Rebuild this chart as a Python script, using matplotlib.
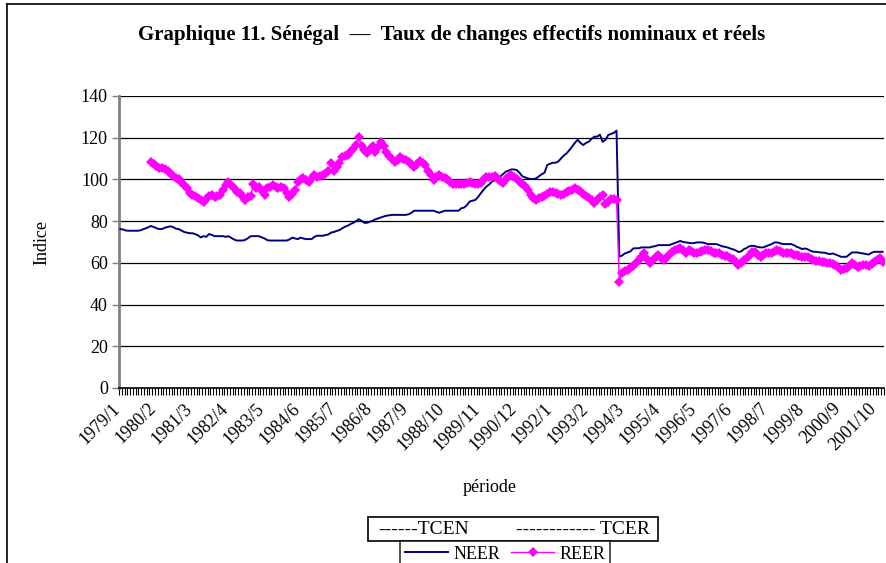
"""
Graphique 11 - Sénégal : taux de change effectifs nominaux (NEER) et réels (REER)
Série mensuelle 1979/1 - 2001/12
"""

import numpy as np
import pandas as pd
import matplotlib
matplotlib.use("Agg")
import matplotlib.pyplot as plt
import matplotlib.transforms as mtransforms
from matplotlib.patches import Rectangle
from matplotlib.lines import Line2D

plt.rcParams["font.family"] = ["Liberation Serif", "DejaVu Serif"]

W, H = 887, 563

# mois : 1979/1 ... 2001/12
months = pd.period_range("1979-01", "2001-12", freq="M")
month_labels = [f"{p.year}/{p.month}" for p in months]

# NEER, un an par ligne
neer = [
    76.2, 76.0, 75.5, 75.4, 75.4, 75.4, 75.4, 75.5, 76.0, 76.5, 77.0, 77.7,   # 1979
    77.2, 76.6, 76.2, 76.2, 76.8, 77.2, 77.5, 77.2, 76.4, 76.2, 75.5, 74.8,   # 1980
    74.5, 74.2, 74.2, 73.8, 73.2, 72.2, 72.8, 72.5, 73.8, 73.4, 72.8, 72.8,   # 1981
    72.8, 72.8, 72.5, 72.8, 72.0, 71.2, 70.7, 70.7, 70.7, 71.0, 71.8, 72.8,   # 1982
    72.8, 72.8, 72.8, 72.2, 71.7, 70.9, 70.7, 70.7, 70.7, 70.7, 70.7, 70.7,   # 1983
    70.7, 71.2, 72.1, 71.7, 71.4, 72.1, 71.7, 71.4, 71.4, 71.4, 72.5, 73.0,   # 1984
    73.0, 73.0, 73.3, 73.6, 74.5, 74.8, 75.3, 75.7, 76.5, 77.3, 77.8, 78.6,   # 1985
    79.2, 80.0, 80.9, 80.2, 79.2, 79.2, 79.7, 80.2, 80.9, 81.3, 81.8, 82.2,   # 1986
    82.6, 82.8, 83.0, 83.0, 83.0, 83.0, 83.0, 83.0, 83.3, 84.0, 85.0, 85.0,   # 1987
    85.0, 85.0, 85.0, 85.0, 85.0, 85.0, 84.5, 84.0, 84.5, 85.0, 85.0, 85.0,   # 1988
    85.0, 85.0, 85.0, 86.2, 86.5, 87.7, 89.4, 89.8, 90.1, 91.5, 93.3, 95.0,   # 1989
    96.5, 97.5, 98.9, 99.5, 100.5, 101.3, 102.5, 103.7, 104.2, 104.8, 104.8, 104.5,  # 1990
    103.2, 101.5, 101.0, 100.5, 100.2, 100.2, 100.5, 101.5, 102.5, 103.2, 106.9, 107.5,  # 1991
    108.0, 108.0, 108.6, 110.1, 111.5, 112.5, 114.1, 115.8, 117.6, 119.0, 117.5, 116.5,  # 1992
    117.5, 118.1, 119.5, 120.5, 120.5, 121.5, 118.0, 119.0, 121.3, 121.8, 122.3, 123.4,  # 1993
    62.9, 63.5, 64.5, 65.0, 65.5, 66.9, 67.0, 67.0, 67.4, 67.4, 67.4, 67.4,   # 1994
    67.8, 68.0, 68.5, 68.5, 68.5, 68.5, 68.5, 69.0, 69.5, 70.0, 70.5, 70.0,   # 1995
    69.8, 69.6, 69.4, 69.5, 69.8, 69.8, 69.8, 69.4, 69.0, 69.0, 69.0, 69.0,   # 1996
    68.5, 68.0, 67.7, 67.4, 66.9, 66.5, 66.0, 65.2, 65.5, 66.6, 67.2, 68.0,   # 1997
    68.2, 68.0, 67.6, 67.4, 67.4, 68.0, 68.5, 69.0, 69.8, 69.8, 69.4, 69.0,   # 1998
    69.0, 69.0, 69.0, 68.5, 67.7, 67.2, 66.6, 66.9, 66.5, 65.8, 65.3, 65.3,   # 1999
    65.1, 64.9, 64.9, 64.5, 64.2, 64.5, 64.0, 63.5, 62.9, 62.9, 62.9, 64.0,   # 2000
    65.0, 65.0, 65.0, 64.7, 64.5, 64.2, 64.0, 64.8, 65.3, 65.3, 65.3, 65.3,   # 2001
]

nan = np.nan
reer = [
    nan, nan, nan, nan, nan, nan, nan, nan, nan, nan, nan, 108.2,             # 1979
    107.2, 106.5, 105.6, 105.5, 105.1, 104.0, 102.9, 101.5, 100.5, 100.0, 98.9, 97.5,  # 1980
    95.7, 93.5, 92.5, 92.0, 91.0, 90.0, 89.3, 90.5, 92.0, 92.5, 91.4, 92.0,   # 1981
    92.5, 95.0, 97.3, 98.9, 97.5, 95.7, 94.1, 93.5, 92.0, 90.1, 91.5, 92.0,   # 1982
    97.8, 95.7, 96.5, 94.5, 92.5, 95.7, 96.5, 97.3, 96.5, 95.7, 96.5, 96.0,   # 1983
    93.5, 91.7, 93.0, 94.9, 98.9, 100.0, 100.5, 99.5, 98.9, 100.5, 102.1, 101.3,  # 1984
    101.5, 102.0, 102.4, 104.0, 108.0, 104.2, 106.0, 108.0, 110.9, 111.2, 111.7, 113.0,  # 1985
    114.8, 116.5, 120.2, 116.0, 114.0, 112.5, 114.5, 116.0, 113.3, 115.5, 118.1, 116.0,  # 1986
    113.3, 111.0, 110.0, 108.5, 109.5, 110.6, 110.0, 109.5, 108.5, 107.5, 106.1, 107.5,  # 1987
    109.0, 108.0, 106.9, 104.0, 102.0, 99.7, 101.0, 102.1, 101.3, 100.5, 100.0, 98.9,   # 1988
    98.0, 97.8, 97.8, 97.8, 98.0, 98.5, 99.0, 98.5, 97.8, 98.0, 98.5, 99.5,   # 1989
    101.3, 101.0, 101.3, 101.6, 100.5, 99.2, 98.5, 100.0, 101.0, 102.1, 101.0, 100.0,  # 1990
    98.9, 98.0, 97.0, 94.9, 92.5, 91.0, 90.1, 91.0, 91.5, 92.0, 93.0, 94.1,   # 1991
    94.1, 93.5, 93.0, 92.5, 93.0, 94.0, 94.6, 95.0, 95.7, 95.0, 94.5, 93.0,   # 1992
    92.0, 91.0, 90.0, 88.8, 90.0, 91.5, 92.5, 88.0, 89.2, 90.7, 90.5, 90.1,   # 1993
    51.0, 55.0, 56.0, 56.6, 57.5, 58.5, 59.8, 61.5, 63.0, 64.5, 62.0, 60.1,   # 1994
    61.5, 62.5, 63.7, 62.5, 61.3, 62.5, 64.0, 65.3, 66.0, 66.5, 66.9, 66.0,   # 1995
    64.5, 66.2, 65.5, 64.5, 64.8, 65.0, 65.5, 66.0, 66.2, 65.5, 64.9, 64.7,   # 1996
    64.5, 64.0, 63.5, 63.2, 62.5, 61.7, 60.5, 59.0, 60.0, 61.3, 62.5, 63.7,   # 1997
    65.0, 65.3, 64.0, 62.9, 63.7, 64.5, 64.5, 64.5, 65.5, 66.2, 65.5, 64.5,   # 1998
    64.5, 64.9, 64.5, 64.0, 63.7, 63.2, 63.0, 62.8, 62.6, 62.0, 61.3, 61.0,   # 1999
    60.8, 60.5, 60.3, 60.1, 59.8, 59.5, 59.0, 58.0, 56.6, 57.0, 57.4, 58.5,   # 2000
    59.8, 59.0, 58.2, 58.5, 59.0, 58.8, 58.5, 59.5, 60.5, 61.3, 62.1, 60.5,   # 2001
]

y_ticks = [0, 20, 40, 60, 80, 100, 120, 140]

assert len(neer) == len(months) == len(reer)


def fx(px):
    return px / W


def fy(py):
    return 1 - py / H


fig = plt.figure(figsize=(W / 100, H / 100), dpi=100)
fig.patch.set_facecolor("white")

# cadre du graphique (haut et gauche seulement visibles)
fig.add_artist(Line2D([fx(7), 1.0], [fy(4), fy(4)], transform=fig.transFigure,
                      color="black", lw=1.2))
fig.add_artist(Line2D([fx(7), fx(7)], [fy(4), 0.0], transform=fig.transFigure,
                      color="black", lw=1.2))

ax = fig.add_axes([fx(119), fy(388), fx(884) - fx(119), fy(96) - fy(388)])

x = np.arange(len(months))
ax.plot(x, neer, color="#000080", lw=1.4, zorder=3)
ax.plot(x, reer, color="#FF00FF", lw=1.0, marker="D", ms=5.5,
        markeredgewidth=0, zorder=4)

ax.set_xlim(-0.5, len(months) - 0.5)
ax.set_ylim(0, 140)
ax.set_yticks(y_ticks)
ax.tick_params(axis="y", labelsize=13, length=5, width=1, pad=3, color="#808080")

# axe des catégories : un repère par mois, une étiquette tous les 13 mois
ax.set_xticks(np.arange(len(months) + 1) - 0.5, minor=True)
ax.set_xticks([])
ax.tick_params(axis="x", which="minor", length=5, width=0.8, color="black")
lab_trans = mtransforms.blended_transform_factory(ax.transData, ax.transAxes) + \
    mtransforms.ScaledTranslation(-9 / 100, -12 / 100, fig.dpi_scale_trans)
for i in x[::13]:
    ax.text(i, 0, month_labels[i], transform=lab_trans, rotation=45,
            ha="right", va="top", rotation_mode="anchor", fontsize=13, clip_on=False)

for v in y_ticks[1:]:
    ax.axhline(v, color="black", lw=0.9, zorder=1)

ax.spines[["top", "right"]].set_visible(False)
ax.spines["left"].set_color("#808080")
ax.spines["left"].set_linewidth(2)
ax.spines["bottom"].set_color("black")
ax.spines["bottom"].set_linewidth(1.2)

fig.text(fx(452), fy(35), "Graphique 11. Sénégal  —  Taux de changes effectifs nominaux et réels",
         ha="center", va="center", fontsize=15, fontweight="bold")
fig.text(fx(42), fy(242), "Indice", rotation=90, ha="center", va="center", fontsize=13)
fig.text(fx(490), fy(487), "période", ha="center", va="center", fontsize=13)

# encadré TCEN / TCER
fig.add_artist(Rectangle((fx(368), fy(541)), fx(658) - fx(368), fy(517) - fy(541),
                         transform=fig.transFigure, fill=False, ec="black", lw=1.2))
fig.text(fx(378), fy(529), "------TCEN", ha="left", va="center", fontsize=14)
fig.text(fx(650), fy(529), "------------ TCER", ha="right", va="center", fontsize=14)

# légende des séries (coupée en bas comme l'original)
h1 = Line2D([], [], color="#000080", lw=1.4)
h2 = Line2D([], [], color="#FF00FF", lw=1.0, marker="D", ms=5, markeredgewidth=0)
leg = fig.legend([h1, h2], ["NEER", "REER"], loc="upper left",
                 bbox_to_anchor=(fx(400), fy(541)), ncol=2, frameon=True,
                 fancybox=False, edgecolor="black", fontsize=13,
                 handlelength=2.4, handletextpad=0.3, columnspacing=0.6,
                 borderpad=0.25, borderaxespad=0)
leg.get_frame().set_linewidth(1.2)

fig.savefig("out.png", dpi=100)
